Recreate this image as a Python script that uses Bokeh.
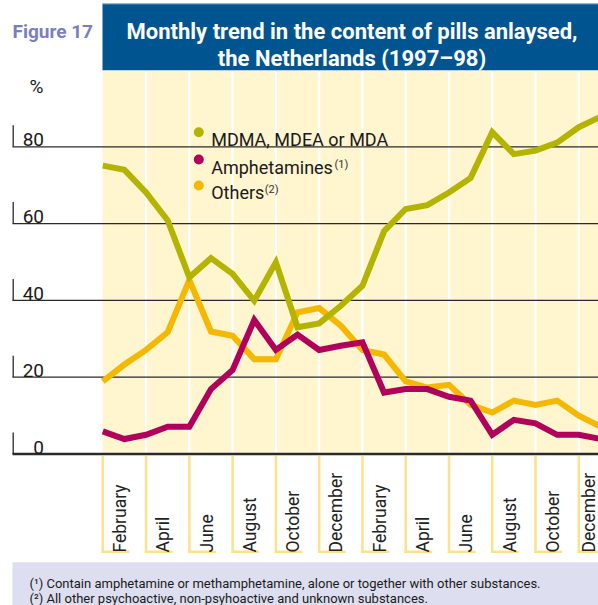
import math
from bokeh.plotting import figure
from bokeh.models import Range1d
from bokeh.core.properties import value
from bokeh.embed import file_html
from bokeh.resources import INLINE

# ---------------- data ----------------
months = list(range(24))  # Jan 1997 .. Dec 1998
mdma = [75.1, 74.0, 68.1, 60.8, 46.0, 51.0, 46.9, 39.9, 49.9, 33.0, 34.0, 38.6,
        43.8, 58.0, 63.8, 64.8, 68.1, 71.9, 83.8, 78.1, 79.0, 81.1, 85.1, 87.8]
amph = [5.9, 3.9, 5.0, 7.1, 7.1, 16.9, 21.9, 34.9, 27.1, 31.1, 27.1, 28.2,
        29.1, 16.0, 16.9, 16.9, 14.9, 13.9, 5.0, 8.9, 8.0, 5.0, 5.0, 3.9]
others = [18.9, 23.3, 27.1, 31.7, 45.3, 31.9, 30.8, 24.7, 24.7, 36.9, 38.0, 33.4,
          27.1, 25.9, 18.9, 17.3, 18.0, 12.8, 10.8, 13.9, 12.8, 13.9, 10.0, 7.1]
label_months = [1, 3, 5, 7, 9, 11, 13, 15, 17, 19, 21, 23]
month_labels = ["February", "April", "June", "August", "October", "December",
                "February", "April", "June", "August", "October", "December"]
yticks = [0, 20, 40, 60, 80]
ytick_labels = ["0", "20", "40", "60", "80"]
series_names = ["MDMA, MDEA or MDA", "Amphetamines", "Others"]
series_notes = ["", "(1)", "(2)"]
title_lines = ["Monthly trend in the content of pills anlaysed,",
               "the Netherlands (1997\u201398)"]
figure_label = "Figure 17"
footnotes = ["(\u00b9) Contain amphetamine or methamphetamine, alone or together with other substances.",
             "(\u00b2) All other psychoactive, non-psyhoactive and unknown substances."]

# ---------------- styles ----------------
C_MDMA = "#b3b300"
C_AMPH = "#b1005c"
C_OTH = "#f4b800"
C_BANNER = "#00548f"
C_BG = "#fff5cf"
C_LBL = "#fde28c"
C_FIG = "#7b7fbf"
C_FOOT = "#dddff0"
FONT = value("Roboto")

W, H = 598, 605
X0P, DXP = 102.3, 21.636   # page px of month 0, px per month
Y0P, DYP = 453.5, 3.84     # page px of 0 %, px per %


def X(px):
    return (px - X0P) / DXP


def Y(py):
    return (Y0P - py) / DYP


p = figure(width=W, height=H, x_range=Range1d(X(0), X(W)), y_range=Range1d(Y(H), Y(0)),
           output_backend="svg", toolbar_location=None, min_border=0,
           x_axis_location=None, y_axis_location=None, title=None)
p.outline_line_color = None
p.background_fill_color = "white"
p.border_fill_color = "white"
p.grid.visible = False

# banner
p.quad(left=[X(102)], right=[X(610)], top=[Y(3)], bottom=[Y(70)], fill_color=C_BANNER, line_color=None)
p.segment(x0=[X(102)], x1=[X(610)], y0=[Y(3.3)], y1=[Y(3.3)], line_color="#9dbcd9", line_width=1)
p.segment(x0=[X(102)], x1=[X(610)], y0=[Y(70)], y1=[Y(70)], line_color="#b9cfe4", line_width=1)
# plot background
p.quad(left=[X(102)], right=[X(610)], top=[Y(70.5)], bottom=[Y(454)], fill_color=C_BG, line_color=None)
# white separators every two months
seps = [m - 1 for m in label_months[1:]]
p.segment(x0=seps, x1=seps, y0=[Y(454)] * len(seps), y1=[Y(71)] * len(seps),
          line_color="white", line_width=2.2)

# month label boxes (L shapes)
lx = [m - 1 for m in label_months]
p.segment(x0=lx, x1=lx, y0=[Y(455.5)] * len(lx), y1=[Y(552.5)] * len(lx),
          line_color=C_LBL, line_width=2.5)
p.segment(x0=[v - 0.06 for v in lx], x1=[v + 26.6 / DXP for v in lx],
          y0=[Y(551.3)] * len(lx), y1=[Y(551.3)] * len(lx), line_color=C_LBL, line_width=2.5)
lab_x = [m - 0.2 for m in label_months]
lab_x[-1] = min(lab_x[-1], X(588))  # keep the last label inside the picture
p.text(x=lab_x, y=[Y(552)] * len(label_months), text=month_labels,
       angle=math.pi / 2, text_align="left", text_baseline="middle", text_font=FONT,
       text_font_size="17.5px", text_color="#222222")

# gridlines
p.segment(x0=[X(12)] * len(yticks), x1=[X(610)] * len(yticks), y0=yticks, y1=yticks,
          line_color="#2a2a2a", line_width=[2.3 if t == 0 else 1.3 for t in yticks])
p.segment(x0=[X(12.7)] * len(yticks), x1=[X(12.7)] * len(yticks), y0=yticks,
          y1=[t + 21.5 / DYP for t in yticks], line_color="#2a2a2a", line_width=1.3)
p.text(x=[X(43.5)] * len(yticks), y=[t + 7 / DYP for t in yticks], text=ytick_labels,
       text_align="right", text_baseline="alphabetic", text_font=FONT, text_font_size="19px",
       text_color="#1a1a1a")
p.text(x=[X(43)], y=[Y(86)], text=["%"], text_align="right", text_baseline="alphabetic",
       text_font=FONT, text_font_size="19px", text_color="#1a1a1a")

# data lines
p.line(months, others, line_color=C_OTH, line_width=6, line_join="miter")
p.line(months, amph, line_color=C_AMPH, line_width=6, line_join="miter")
p.line(months, mdma, line_color=C_MDMA, line_width=6, line_join="miter")

# legend
leg_colors = [C_MDMA, C_AMPH, C_OTH]
dot_y = [Y(131.7), Y(159), Y(185)]
txt_y = [Y(139.3), Y(166.6), Y(191.6)]
p.scatter(x=[X(198.3)] * 3, y=dot_y, marker="circle", size=10, fill_color=leg_colors, line_color=None)
p.text(x=[X(210.7)] * 3, y=txt_y, text=series_names, text_align="left", text_baseline="alphabetic",
       text_font=FONT, text_font_size="18px", text_color="#1a1a1a")
note_x = [X(210.7 + 6.74 * 18 + 2), X(210.7 + 2.86 * 18 + 2)]
p.text(x=note_x, y=[Y(164), Y(189)], text=series_notes[1:], text_align="left",
       text_baseline="alphabetic", text_font=FONT, text_font_size="11px", text_color="#333333")

# title
p.text(x=[X(12)], y=[Y(30.5)], text=[figure_label], text_align="left", text_baseline="alphabetic",
       text_font=FONT, text_font_style="bold", text_font_size="19px", text_color=C_FIG)
p.text(x=[X(351.5)] * 2, y=[Y(30.5), Y(57.5)], text=title_lines, text_align="center",
       text_baseline="alphabetic", text_font=FONT, text_font_style="bold", text_font_size="22px",
       text_color="white")

# footnotes
p.quad(left=[X(12)], right=[X(610)], top=[Y(561.7)], bottom=[Y(620)], fill_color=C_FOOT, line_color=None)
p.text(x=[X(29)] * 2, y=[Y(582.6), Y(598.3)], text=footnotes, text_align="left",
       text_baseline="alphabetic", text_font=FONT, text_font_size="13px", text_color="#1a1a1a")

open("out.html", "w").write(file_html(p, INLINE))
